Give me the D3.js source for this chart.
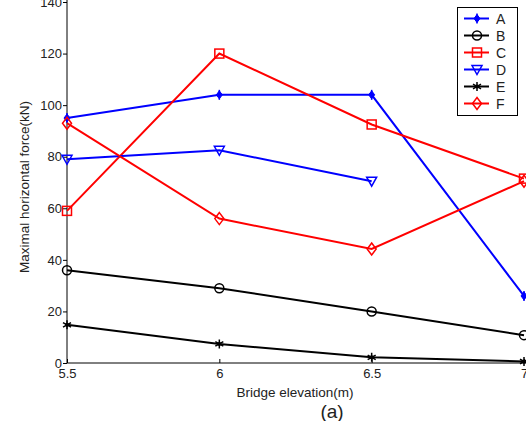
<!DOCTYPE html>
<html>
<head>
<meta charset="utf-8">
<script src="https://cdn.jsdelivr.net/npm/d3@7"></script>
<style>
  body { margin: 0; background: #fff; }
  text { font-family: "Liberation Sans", Arial, sans-serif; fill: #222; }
</style>
</head>
<body>
<div id="chart"></div>
<script>
// Data
const elevations = [5.5, 6, 6.5, 7];
const seriesNames = ["A", "B", "C", "D", "E", "F"];
const valuesA = [95, 104, 104, 26];
const valuesB = [36, 29, 20, 10.8];
const valuesC = [59, 120, 92.5, 71.5];
const valuesD = [79, 82.5, 70.5];
const valuesE = [14.8, 7.4, 2.2, 0.6];
const valuesF = [93, 56, 44.2, 70.5];
const yTicks = [0, 20, 40, 60, 80, 100, 120, 140];
const xTicks = [5.5, 6, 6.5, 7];

const series = [
  { name: "A", values: valuesA, color: "#0000ff", marker: "fdiamond" },
  { name: "B", values: valuesB, color: "#000000", marker: "circle" },
  { name: "C", values: valuesC, color: "#ff0000", marker: "square" },
  { name: "D", values: valuesD, color: "#0000ff", marker: "tridown" },
  { name: "E", values: valuesE, color: "#000000", marker: "star" },
  { name: "F", values: valuesF, color: "#ff0000", marker: "diamond" }
];

const W = 526, H = 421;
const svg = d3.select("#chart").append("svg")
  .attr("width", W).attr("height", H);

// Scales
const x = d3.scaleLinear().domain([5.5, 7]).range([67, 524]);
const y = d3.scaleLinear().domain([0, 140]).range([363, 2]);

// Axes
const xAxis = d3.axisBottom(x).tickValues(xTicks).tickSizeInner(-4).tickSizeOuter(0)
  .tickFormat(d3.format("~g"));
const gx = svg.append("g").attr("transform", "translate(0,363)").call(xAxis);
gx.select(".domain").attr("stroke", "#000").attr("d", "M67,0H526");
gx.selectAll(".tick line").attr("stroke", "#000");
gx.selectAll(".tick text").attr("y", 6).style("font-size", "13px")
  .style("font-family", "Liberation Sans, Arial, sans-serif").attr("fill", "#222");

const yAxis = d3.axisLeft(y).tickValues(yTicks).tickSizeInner(4).tickSizeOuter(0);
const gy = svg.append("g").attr("transform", "translate(67,0)").call(yAxis);
gy.select(".domain").attr("stroke", "#000").attr("d", "M0,363V0");
gy.selectAll(".tick line").attr("stroke", "#000");
gy.selectAll(".tick text").attr("x", -5).style("font-size", "13px")
  .style("font-family", "Liberation Sans, Arial, sans-serif").attr("fill", "#222");

// Axis labels
svg.append("text")
  .attr("x", 295).attr("y", 397)
  .attr("text-anchor", "middle")
  .style("font-size", "13.5px")
  .text("Bridge elevation(m)");

svg.append("text")
  .attr("x", 332).attr("y", 418)
  .attr("text-anchor", "middle")
  .style("font-size", "19px")
  .text("(a)");

svg.append("text")
  .attr("transform", "translate(29,187) rotate(-90)")
  .attr("text-anchor", "middle")
  .style("font-size", "13.5px")
  .text("Maximal horizontal force(kN)");

// Marker drawing
function drawMarker(g, type, color) {
  switch (type) {
    case "fdiamond":
      g.append("path").attr("d", "M0,-4L3,0L0,4L-3,0Z").attr("fill", color).attr("stroke", color).attr("stroke-width", 1);
      g.append("path").attr("d", "M0,-5V5").attr("stroke", color).attr("stroke-width", 1.5);
      break;
    case "circle":
      g.append("circle").attr("r", 4.5).attr("fill", "none").attr("stroke", color).attr("stroke-width", 1.5);
      break;
    case "square":
      g.append("rect").attr("x", -4.5).attr("y", -4.5).attr("width", 9).attr("height", 9)
        .attr("fill", "none").attr("stroke", color).attr("stroke-width", 1.5);
      break;
    case "tridown":
      g.append("path").attr("d", "M-5,-4H5L0,5Z").attr("fill", "none").attr("stroke", color).attr("stroke-width", 1.5);
      break;
    case "star":
      g.append("path").attr("d", "M0,-4.5V4.5M-4,-2.3L4,2.3M-4,2.3L4,-2.3").attr("stroke", color).attr("stroke-width", 1.5);
      g.append("circle").attr("r", 2).attr("fill", color);
      break;
    case "diamond":
      g.append("path").attr("d", "M0,-6L4.5,0L0,6L-4.5,0Z").attr("fill", "none").attr("stroke", color).attr("stroke-width", 1.5);
      break;
  }
}

// Lines and markers
const line = d3.line()
  .x((d, i) => x(elevations[i]))
  .y(d => y(d));

series.forEach(s => {
  svg.append("path")
    .datum(s.values)
    .attr("fill", "none")
    .attr("stroke", s.color)
    .attr("stroke-width", 2)
    .attr("d", line);
  s.values.forEach((v, i) => {
    const g = svg.append("g").attr("transform", `translate(${x(elevations[i])},${y(v)})`);
    drawMarker(g, s.marker, s.color);
  });
});

// Legend
const legend = svg.append("g");
legend.append("rect")
  .attr("x", 457.5).attr("y", 7.5).attr("width", 60).attr("height", 108)
  .attr("fill", "#fff").attr("stroke", "#000").attr("stroke-width", 1);

const ly = d3.scalePoint().domain(seriesNames).range([18.5, 103.5]);
series.forEach(s => {
  const yy = ly(s.name);
  legend.append("line")
    .attr("x1", 464).attr("x2", 489).attr("y1", yy).attr("y2", yy)
    .attr("stroke", s.color).attr("stroke-width", 2);
  const g = legend.append("g").attr("transform", `translate(477,${yy})`);
  drawMarker(g, s.marker, s.color);
  legend.append("text")
    .attr("x", 496).attr("y", yy + 5)
    .style("font-size", "14px")
    .attr("fill", "#333")
    .text(s.name);
});
</script>
</body>
</html>
